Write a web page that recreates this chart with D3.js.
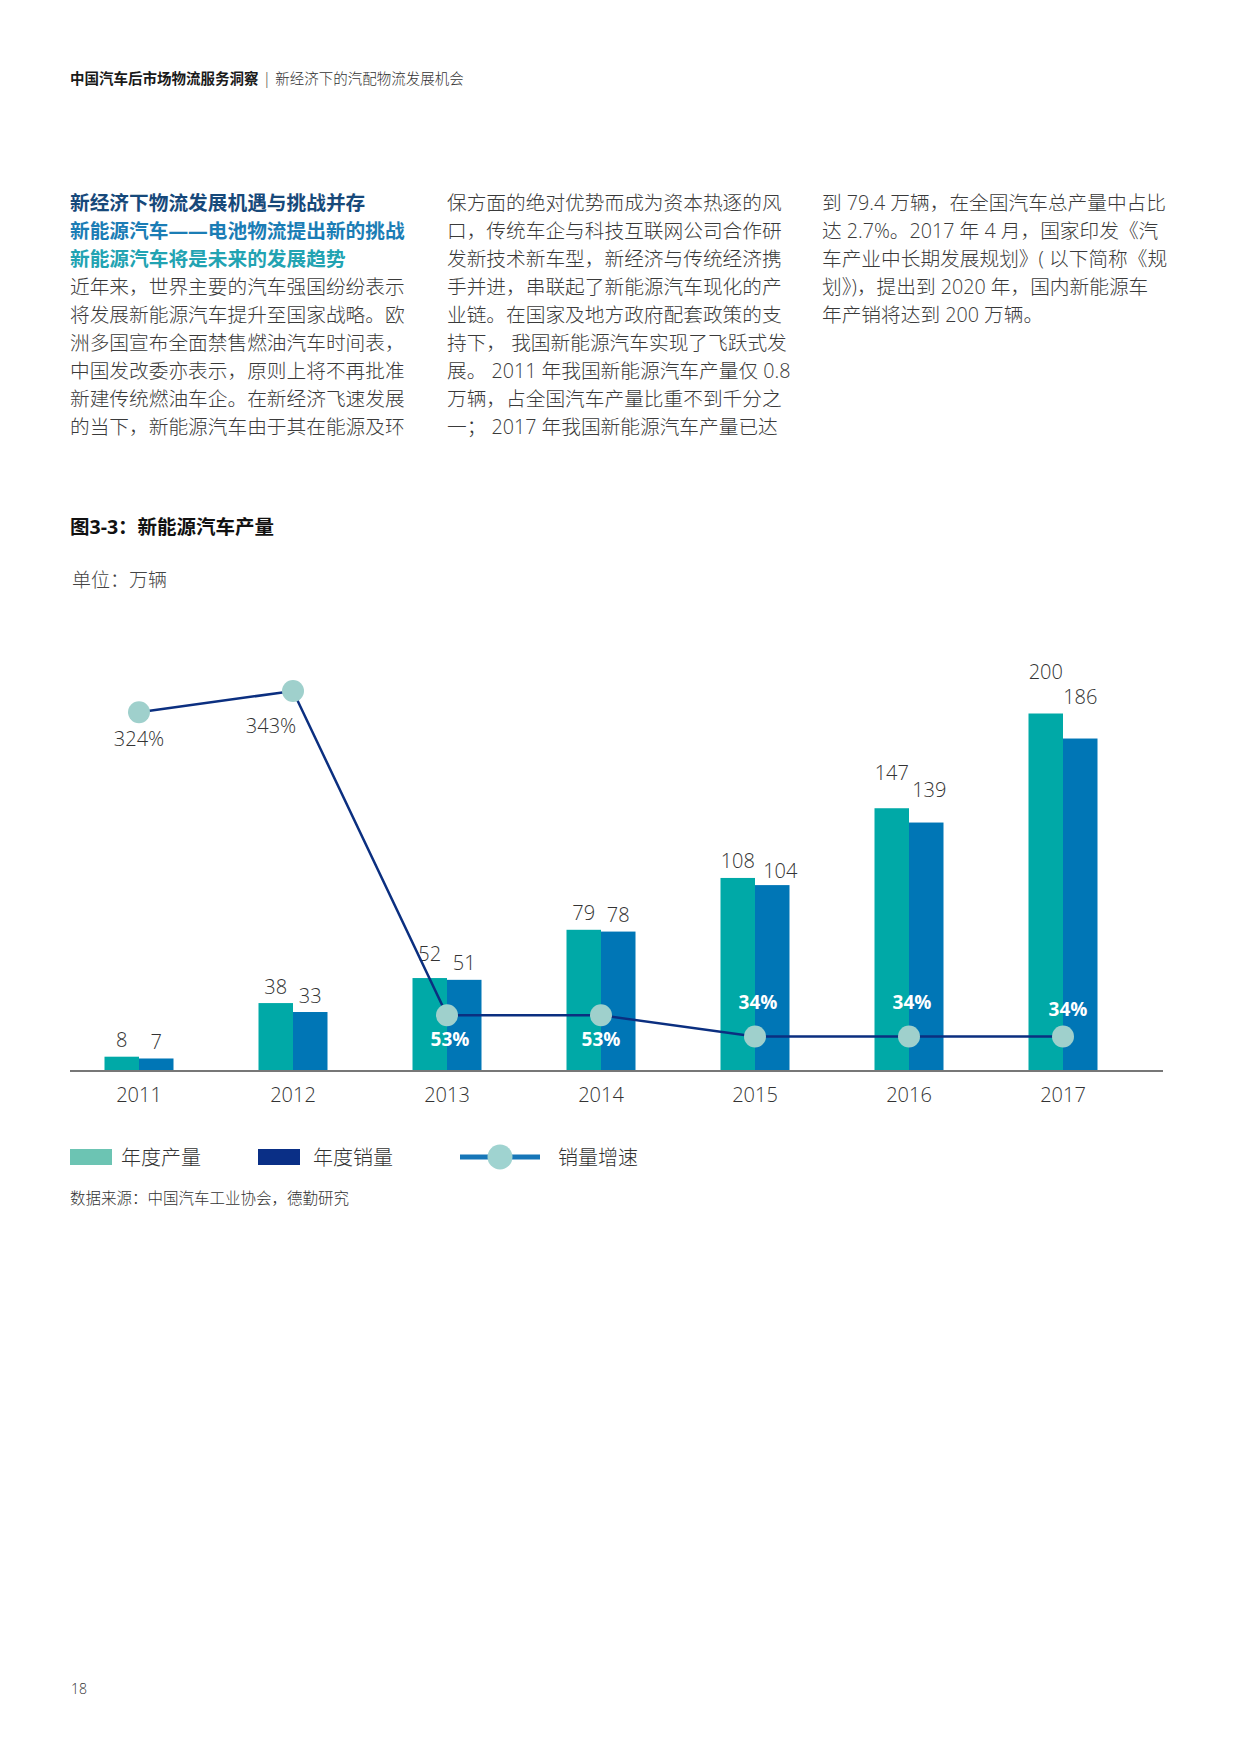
<!DOCTYPE html>
<html>
<head>
<meta charset="utf-8">
<script src="https://cdn.jsdelivr.net/npm/d3@7/dist/d3.min.js"></script>
<style>
  html, body { margin: 0; padding: 0; background: #fff; }
  svg { display: block; }
  text { font-family: "Open Sans", "Noto Sans CJK SC", sans-serif; }
</style>
</head>
<body>
<svg id="page" width="1240" height="1754"></svg>
<script>
// ---------------- data ----------------
const years = ["2011", "2012", "2013", "2014", "2015", "2016", "2017"];
const production = [8, 38, 52, 79, 108, 147, 200];   // 年度产量 (万辆)
const sales = [7, 33, 51, 78, 104, 139, 186];        // 年度销量 (万辆)
const salesGrowth = [324, 343, 53, 53, 34, 34, 34];  // 销量增速 (%)
const legendLabels = ["年度产量", "年度销量", "销量增速"];

const headerBold = "中国汽车后市场物流服务洞察";
const headerLight = "新经济下的汽配物流发展机会";
const headings = ["新经济下物流发展机遇与挑战并存", "新能源汽车——电池物流提出新的挑战", "新能源汽车将是未来的发展趋势"];
const col1 = [
  "近年来，世界主要的汽车强国纷纷表示",
  "将发展新能源汽车提升至国家战略。欧",
  "洲多国宣布全面禁售燃油汽车时间表，",
  "中国发改委亦表示，原则上将不再批准",
  "新建传统燃油车企。在新经济飞速发展",
  "的当下，新能源汽车由于其在能源及环"
];
const col2 = [
  "保方面的绝对优势而成为资本热逐的风",
  "口，传统车企与科技互联网公司合作研",
  "发新技术新车型，新经济与传统经济携",
  "手并进，串联起了新能源汽车现化的产",
  "业链。在国家及地方政府配套政策的支",
  "持下， 我国新能源汽车实现了飞跃式发",
  "展。 2011 年我国新能源汽车产量仅 0.8",
  "万辆，占全国汽车产量比重不到千分之",
  "一； 2017 年我国新能源汽车产量已达"
];
const col3 = [
  "到 79.4 万辆，在全国汽车总产量中占比",
  "达 2.7%。2017 年 4 月，国家印发《汽",
  "车产业中长期发展规划》( 以下简称《规",
  "划》)，提出到 2020 年，国内新能源车",
  "年产销将达到 200 万辆。"
];
const figTitle = "图3-3：新能源汽车产量";
const unitText = "单位：万辆";
const sourceText = "数据来源：中国汽车工业协会，德勤研究";
const pageNum = "18";

// ---------------- page ----------------
const svg = d3.select("#page");

// header
const hdr = svg.append("text").attr("x", 70).attr("y", 78)
  .attr("dominant-baseline", "central").attr("font-size", 14.5);
hdr.append("tspan").attr("font-weight", 700).attr("fill", "#1a1a1a").text(headerBold);
hdr.append("tspan").attr("fill", "#444").attr("font-weight", 300).attr("dx", 4).attr("font-size", 16).text("|");
hdr.append("tspan").attr("fill", "#333").attr("font-weight", 300).attr("dx", 4).text(headerLight);

// body columns
const lineH = 28, firstY = 202, bodySize = 19.7;
const headColors = ["#17497a", "#1b7db5", "#22a3b2"];
const c1 = headings.map((t, i) => ({t, bold: true, color: headColors[i]})).concat(col1.map(t => ({t})));
function drawCol(lines, x) {
  svg.append("g").selectAll("text").data(lines).join("text")
    .attr("x", x)
    .attr("y", (d, i) => firstY + i * lineH)
    .attr("dominant-baseline", "central")
    .attr("font-size", bodySize)
    .attr("font-weight", d => d.bold ? 700 : 300)
    .attr("font-family", d => d.bold ? "'Noto Sans CJK SC', sans-serif" : null)
    .attr("fill", d => d.color || "#3a3a3a")
    .text(d => d.t);
}
drawCol(c1, 70);
drawCol(col2.map(t => ({t})), 447);
drawCol(col3.map(t => ({t})), 822);

// figure title & unit
svg.append("text").attr("x", 70).attr("y", 526).attr("dominant-baseline", "central")
  .attr("font-size", 19.5).attr("font-weight", 700).attr("fill", "#111").text(figTitle);
svg.append("text").attr("x", 72).attr("y", 580).attr("dominant-baseline", "central")
  .attr("font-size", 19).attr("font-weight", 300).attr("fill", "#444").text(unitText);

// ---------------- chart ----------------
const axisY = 1071;
const x = d3.scaleBand().domain(years).range([62, 1140]).paddingInner(0).paddingOuter(0);
const cx = d => x(d) + x.bandwidth() / 2;
const barW = 34.5;
const y = d3.scaleLinear().domain([0, 200]).range([axisY, 713.5]);
const yLine = d3.scaleLinear().domain([0, 343]).range([1074.6, 691]);

const tealBar = "#00a9a7", blueBar = "#0076b6", navy = "#0b2f80", dotFill = "#9fd0cc";

const rows = years.map((yr, i) => ({yr, p: production[i], s: sales[i], g: salesGrowth[i], i}));

const chart = svg.append("g");
// bars
chart.selectAll("rect.p").data(rows).join("rect").attr("class", "p")
  .attr("x", d => cx(d.yr) - barW).attr("width", barW)
  .attr("y", d => y(d.p)).attr("height", d => y(0) - y(d.p)).attr("fill", tealBar);
chart.selectAll("rect.s").data(rows).join("rect").attr("class", "s")
  .attr("x", d => cx(d.yr)).attr("width", barW)
  .attr("y", d => y(d.s)).attr("height", d => y(0) - y(d.s)).attr("fill", blueBar);

// axis
const axis = chart.append("g").attr("transform", `translate(0,${axisY})`)
  .call(d3.axisBottom(x).tickSize(0));
axis.select(".domain").remove();
axis.selectAll("text").attr("y", 23).attr("dy", null).attr("dominant-baseline", "central")
  .attr("font-size", 20).attr("font-weight", 300).attr("fill", "#333")
  .attr("font-family", "'Open Sans', 'Noto Sans CJK SC', sans-serif");
chart.append("line").attr("x1", 70).attr("x2", 1163).attr("y1", axisY).attr("y2", axisY)
  .attr("stroke", "#777").attr("stroke-width", 2);

// bar value labels (extra lift for crowded tall pairs)
const liftP = {"2013": 25, "2016": 36, "2017": 42};
const liftS = {"2015": 15, "2016": 33, "2017": 42};
const shiftS = {"2015": 8, "2016": 3};
chart.selectAll("text.pv").data(rows).join("text").attr("class", "pv")
  .attr("x", d => cx(d.yr) - barW / 2)
  .attr("y", d => y(d.p) - (liftP[d.yr] || 17))
  .attr("text-anchor", "middle").attr("dominant-baseline", "central")
  .attr("font-size", 20).attr("font-weight", 300).attr("fill", "#333").text(d => d.p);
chart.selectAll("text.sv").data(rows).join("text").attr("class", "sv")
  .attr("x", d => cx(d.yr) + barW / 2 + (shiftS[d.yr] || 0))
  .attr("y", d => y(d.s) - (liftS[d.yr] || 17))
  .attr("text-anchor", "middle").attr("dominant-baseline", "central")
  .attr("font-size", 20).attr("font-weight", 300).attr("fill", "#333").text(d => d.s);

// growth line
const line = d3.line().x(d => cx(d.yr)).y(d => yLine(d.g));
chart.append("path").datum(rows).attr("d", line).attr("fill", "none")
  .attr("stroke", navy).attr("stroke-width", 2.5);
chart.selectAll("circle.g").data(rows).join("circle").attr("class", "g")
  .attr("cx", d => cx(d.yr)).attr("cy", d => yLine(d.g)).attr("r", 11).attr("fill", dotFill);

// growth labels
const gPlace = [
  {dx: 0, dy: 26, white: false},
  {dx: -22, dy: 34, white: false},
  {dx: 3, dy: 24, white: true},
  {dx: 0, dy: 24, white: true},
  {dx: 3, dy: -35, white: true},
  {dx: 3, dy: -35, white: true},
  {dx: 5, dy: -28, white: true}
];
chart.selectAll("text.gl").data(rows).join("text").attr("class", "gl")
  .attr("x", d => cx(d.yr) + gPlace[d.i].dx)
  .attr("y", d => yLine(d.g) + gPlace[d.i].dy)
  .attr("text-anchor", "middle").attr("dominant-baseline", "central")
  .attr("font-size", d => gPlace[d.i].white ? 19 : 20)
  .attr("font-weight", d => gPlace[d.i].white ? 700 : 300)
  .attr("fill", d => gPlace[d.i].white ? "#fff" : "#333")
  .text(d => d.g + "%");

// ---------------- legend ----------------
const legY = 1157;
const leg = svg.append("g");
leg.append("rect").attr("x", 70).attr("y", legY - 8).attr("width", 42).attr("height", 16).attr("fill", "#6cc4b3");
leg.append("text").attr("x", 121).attr("y", legY).attr("dominant-baseline", "central")
  .attr("font-size", 20).attr("font-weight", 300).attr("fill", "#333").text(legendLabels[0]);
leg.append("rect").attr("x", 258).attr("y", legY - 8).attr("width", 42).attr("height", 16).attr("fill", "#0a2f86");
leg.append("text").attr("x", 313).attr("y", legY).attr("dominant-baseline", "central")
  .attr("font-size", 20).attr("font-weight", 300).attr("fill", "#333").text(legendLabels[1]);
leg.append("line").attr("x1", 460).attr("x2", 540).attr("y1", legY).attr("y2", legY)
  .attr("stroke", "#1676b8").attr("stroke-width", 5);
leg.append("circle").attr("cx", 500).attr("cy", legY).attr("r", 12.5).attr("fill", "#9fd3d0");
leg.append("text").attr("x", 558).attr("y", legY).attr("dominant-baseline", "central")
  .attr("font-size", 20).attr("font-weight", 300).attr("fill", "#333").text(legendLabels[2]);

// source & page number
svg.append("text").attr("x", 70).attr("y", 1198).attr("dominant-baseline", "central")
  .attr("font-size", 15.5).attr("font-weight", 300).attr("fill", "#333").text(sourceText);
svg.append("text").attr("x", 71).attr("y", 1688).attr("dominant-baseline", "central")
  .attr("font-size", 14).attr("font-weight", 300).attr("fill", "#333").text(pageNum);
</script>
</body>
</html>
